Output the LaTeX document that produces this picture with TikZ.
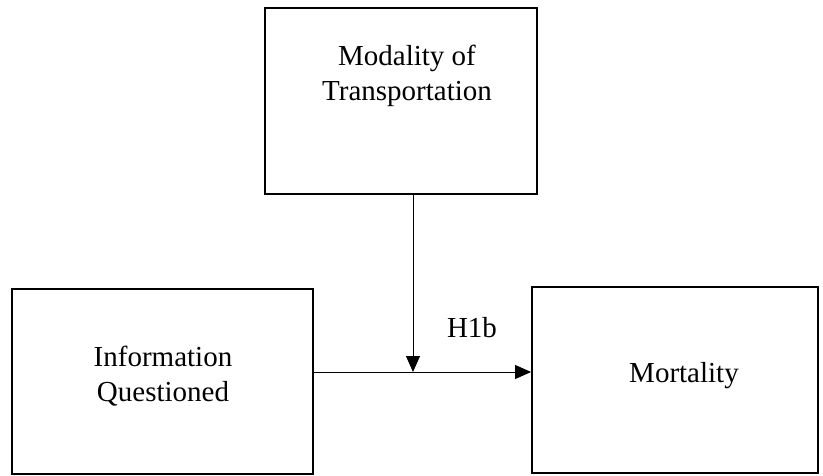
\documentclass[tikz,border=0pt]{standalone}
\usepackage{fontspec}
\setmainfont{Liberation Serif}
\usetikzlibrary{arrows.meta}
\begin{document}
\begin{tikzpicture}[x=1pt,y=-1pt,
  boxnode/.style={draw,line width=1.8pt,inner sep=0pt},
  lbl/.style={font=\fontsize{29}{35}\selectfont,align=center,inner sep=0pt},
  arr/.style={line width=0.9pt,-{Triangle[length=16pt,width=14pt]}}]
\useasboundingbox (0,0) rectangle (823,476);
\node[boxnode,minimum width=272pt,minimum height=186pt] (top) at (401,101) {};
\node[boxnode,minimum width=301pt,minimum height=185pt] (left) at (162.5,381.5) {};
\node[boxnode,minimum width=286pt,minimum height=186pt] (right) at (675,380) {};
\node[lbl] (toptxt) at (407,76) {Modality of\\Transportation};
\node[lbl] (lefttxt) at (163,376) {Information\\Questioned};
\node[lbl] (righttxt) at (684,376) {Mortality};
\node[lbl] (h1b) at (472,328) {H1b};
\coordinate (j) at (413,372);
\draw[arr] (j -| left.east) -- (j -| right.west);
\draw[arr] (top.south -| j) -- (j);
\end{tikzpicture}
\end{document}
